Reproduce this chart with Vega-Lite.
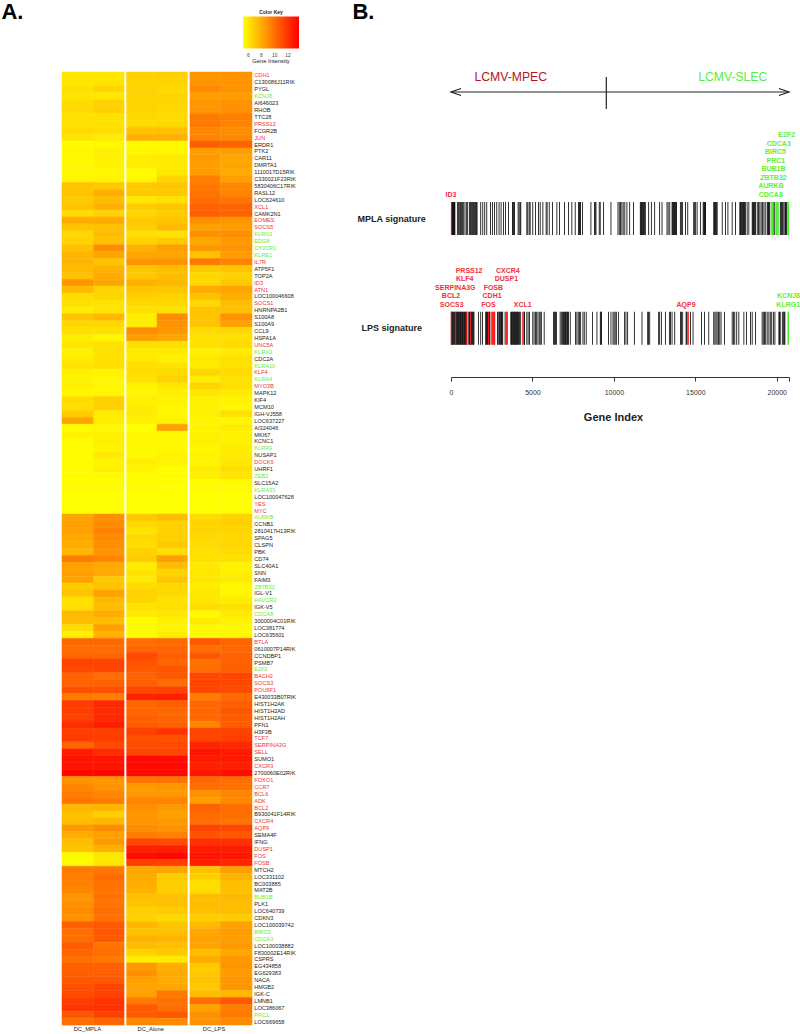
{"$schema":"https://vega.github.io/schema/vega-lite/v6.json","width":800,"height":1034,"padding":0,"autosize":{"type":"none"},"background":"white","config":{"view":{"stroke":null},"font":"Liberation Sans"},
"datasets":{
"cells":[
{"gene":"CDH1","sample":"M1","value":6.0},{"gene":"CDH1","sample":"M2","value":6.0},{"gene":"CDH1","sample":"A1","value":6.7},{"gene":"CDH1","sample":"A2","value":6.8},{"gene":"CDH1","sample":"L1","value":8.7},{"gene":"CDH1","sample":"L2","value":8.8},
{"gene":"C130086J11RIK","sample":"M1","value":6.0},{"gene":"C130086J11RIK","sample":"M2","value":6.1},{"gene":"C130086J11RIK","sample":"A1","value":6.6},{"gene":"C130086J11RIK","sample":"A2","value":6.6},{"gene":"C130086J11RIK","sample":"L1","value":8.7},{"gene":"C130086J11RIK","sample":"L2","value":8.8},
{"gene":"PYGL","sample":"M1","value":6.2},{"gene":"PYGL","sample":"M2","value":6.6},{"gene":"PYGL","sample":"A1","value":6.7},{"gene":"PYGL","sample":"A2","value":6.5},{"gene":"PYGL","sample":"L1","value":9.1},{"gene":"PYGL","sample":"L2","value":8.8},
{"gene":"KCNJ8","sample":"M1","value":6.1},{"gene":"KCNJ8","sample":"M2","value":6.0},{"gene":"KCNJ8","sample":"A1","value":6.6},{"gene":"KCNJ8","sample":"A2","value":6.6},{"gene":"KCNJ8","sample":"L1","value":8.4},{"gene":"KCNJ8","sample":"L2","value":8.5},
{"gene":"AI646023","sample":"M1","value":6.4},{"gene":"AI646023","sample":"M2","value":6.7},{"gene":"AI646023","sample":"A1","value":6.6},{"gene":"AI646023","sample":"A2","value":6.6},{"gene":"AI646023","sample":"L1","value":8.7},{"gene":"AI646023","sample":"L2","value":8.9},
{"gene":"RHOB","sample":"M1","value":6.4},{"gene":"RHOB","sample":"M2","value":6.8},{"gene":"RHOB","sample":"A1","value":6.6},{"gene":"RHOB","sample":"A2","value":6.5},{"gene":"RHOB","sample":"L1","value":8.7},{"gene":"RHOB","sample":"L2","value":8.9},
{"gene":"TTC28","sample":"M1","value":6.2},{"gene":"TTC28","sample":"M2","value":6.2},{"gene":"TTC28","sample":"A1","value":6.5},{"gene":"TTC28","sample":"A2","value":6.4},{"gene":"TTC28","sample":"L1","value":9.6},{"gene":"TTC28","sample":"L2","value":9.5},
{"gene":"PRSS12","sample":"M1","value":6.2},{"gene":"PRSS12","sample":"M2","value":6.2},{"gene":"PRSS12","sample":"A1","value":6.4},{"gene":"PRSS12","sample":"A2","value":6.5},{"gene":"PRSS12","sample":"L1","value":9.7},{"gene":"PRSS12","sample":"L2","value":9.3},
{"gene":"FCGR2B","sample":"M1","value":6.4},{"gene":"FCGR2B","sample":"M2","value":6.3},{"gene":"FCGR2B","sample":"A1","value":7.2},{"gene":"FCGR2B","sample":"A2","value":7.3},{"gene":"FCGR2B","sample":"L1","value":9.2},{"gene":"FCGR2B","sample":"L2","value":9.0},
{"gene":"JUN","sample":"M1","value":6.1},{"gene":"JUN","sample":"M2","value":5.9},{"gene":"JUN","sample":"A1","value":7.8},{"gene":"JUN","sample":"A2","value":7.8},{"gene":"JUN","sample":"L1","value":9.3},{"gene":"JUN","sample":"L2","value":9.1},
{"gene":"ERDR1","sample":"M1","value":5.3},{"gene":"ERDR1","sample":"M2","value":5.4},{"gene":"ERDR1","sample":"A1","value":5.3},{"gene":"ERDR1","sample":"A2","value":5.4},{"gene":"ERDR1","sample":"L1","value":10.6},{"gene":"ERDR1","sample":"L2","value":10.4},
{"gene":"PTK2","sample":"M1","value":5.5},{"gene":"PTK2","sample":"M2","value":5.7},{"gene":"PTK2","sample":"A1","value":5.5},{"gene":"PTK2","sample":"A2","value":5.5},{"gene":"PTK2","sample":"L1","value":8.4},{"gene":"PTK2","sample":"L2","value":8.5},
{"gene":"CAR11","sample":"M1","value":5.4},{"gene":"CAR11","sample":"M2","value":5.7},{"gene":"CAR11","sample":"A1","value":5.8},{"gene":"CAR11","sample":"A2","value":5.9},{"gene":"CAR11","sample":"L1","value":8.6},{"gene":"CAR11","sample":"L2","value":8.2},
{"gene":"DMRTA1","sample":"M1","value":5.4},{"gene":"DMRTA1","sample":"M2","value":5.6},{"gene":"DMRTA1","sample":"A1","value":5.8},{"gene":"DMRTA1","sample":"A2","value":5.8},{"gene":"DMRTA1","sample":"L1","value":8.4},{"gene":"DMRTA1","sample":"L2","value":8.2},
{"gene":"1110017D15RIK","sample":"M1","value":5.4},{"gene":"1110017D15RIK","sample":"M2","value":5.5},{"gene":"1110017D15RIK","sample":"A1","value":5.3},{"gene":"1110017D15RIK","sample":"A2","value":6.0},{"gene":"1110017D15RIK","sample":"L1","value":8.5},{"gene":"1110017D15RIK","sample":"L2","value":8.0},
{"gene":"C330021F23RIK","sample":"M1","value":5.5},{"gene":"C330021F23RIK","sample":"M2","value":5.6},{"gene":"C330021F23RIK","sample":"A1","value":5.5},{"gene":"C330021F23RIK","sample":"A2","value":6.6},{"gene":"C330021F23RIK","sample":"L1","value":9.5},{"gene":"C330021F23RIK","sample":"L2","value":8.4},
{"gene":"5830406C17RIK","sample":"M1","value":7.2},{"gene":"5830406C17RIK","sample":"M2","value":7.0},{"gene":"5830406C17RIK","sample":"A1","value":7.0},{"gene":"5830406C17RIK","sample":"A2","value":7.1},{"gene":"5830406C17RIK","sample":"L1","value":9.7},{"gene":"5830406C17RIK","sample":"L2","value":9.2},
{"gene":"RASL12","sample":"M1","value":7.2},{"gene":"RASL12","sample":"M2","value":7.9},{"gene":"RASL12","sample":"A1","value":7.0},{"gene":"RASL12","sample":"A2","value":7.0},{"gene":"RASL12","sample":"L1","value":9.8},{"gene":"RASL12","sample":"L2","value":9.3},
{"gene":"LOC624610","sample":"M1","value":7.0},{"gene":"LOC624610","sample":"M2","value":7.4},{"gene":"LOC624610","sample":"A1","value":6.0},{"gene":"LOC624610","sample":"A2","value":6.2},{"gene":"LOC624610","sample":"L1","value":10.0},{"gene":"LOC624610","sample":"L2","value":9.8},
{"gene":"XCL1","sample":"M1","value":7.2},{"gene":"XCL1","sample":"M2","value":7.8},{"gene":"XCL1","sample":"A1","value":6.9},{"gene":"XCL1","sample":"A2","value":7.1},{"gene":"XCL1","sample":"L1","value":10.4},{"gene":"XCL1","sample":"L2","value":10.4},
{"gene":"CAMK2N1","sample":"M1","value":6.4},{"gene":"CAMK2N1","sample":"M2","value":6.7},{"gene":"CAMK2N1","sample":"A1","value":6.6},{"gene":"CAMK2N1","sample":"A2","value":6.9},{"gene":"CAMK2N1","sample":"L1","value":10.5},{"gene":"CAMK2N1","sample":"L2","value":10.4},
{"gene":"EOMES","sample":"M1","value":8.0},{"gene":"EOMES","sample":"M2","value":8.0},{"gene":"EOMES","sample":"A1","value":7.0},{"gene":"EOMES","sample":"A2","value":7.1},{"gene":"EOMES","sample":"L1","value":8.9},{"gene":"EOMES","sample":"L2","value":8.7},
{"gene":"SOCS5","sample":"M1","value":7.2},{"gene":"SOCS5","sample":"M2","value":7.3},{"gene":"SOCS5","sample":"A1","value":6.9},{"gene":"SOCS5","sample":"A2","value":7.5},{"gene":"SOCS5","sample":"L1","value":8.3},{"gene":"SOCS5","sample":"L2","value":8.5},
{"gene":"KLRG1","sample":"M1","value":6.5},{"gene":"KLRG1","sample":"M2","value":7.4},{"gene":"KLRG1","sample":"A1","value":6.3},{"gene":"KLRG1","sample":"A2","value":6.2},{"gene":"KLRG1","sample":"L1","value":8.9},{"gene":"KLRG1","sample":"L2","value":9.0},
{"gene":"EDG8","sample":"M1","value":6.7},{"gene":"EDG8","sample":"M2","value":7.3},{"gene":"EDG8","sample":"A1","value":6.7},{"gene":"EDG8","sample":"A2","value":7.0},{"gene":"EDG8","sample":"L1","value":8.1},{"gene":"EDG8","sample":"L2","value":8.6},
{"gene":"CX3CR1","sample":"M1","value":7.3},{"gene":"CX3CR1","sample":"M2","value":9.0},{"gene":"CX3CR1","sample":"A1","value":7.8},{"gene":"CX3CR1","sample":"A2","value":8.4},{"gene":"CX3CR1","sample":"L1","value":8.6},{"gene":"CX3CR1","sample":"L2","value":8.8},
{"gene":"KLRE1","sample":"M1","value":7.7},{"gene":"KLRE1","sample":"M2","value":8.2},{"gene":"KLRE1","sample":"A1","value":8.2},{"gene":"KLRE1","sample":"A2","value":8.2},{"gene":"KLRE1","sample":"L1","value":7.2},{"gene":"KLRE1","sample":"L2","value":8.5},
{"gene":"IL7R","sample":"M1","value":7.7},{"gene":"IL7R","sample":"M2","value":7.2},{"gene":"IL7R","sample":"A1","value":8.8},{"gene":"IL7R","sample":"A2","value":8.8},{"gene":"IL7R","sample":"L1","value":9.7},{"gene":"IL7R","sample":"L2","value":9.3},
{"gene":"ATP5F1","sample":"M1","value":7.5},{"gene":"ATP5F1","sample":"M2","value":7.8},{"gene":"ATP5F1","sample":"A1","value":7.1},{"gene":"ATP5F1","sample":"A2","value":7.4},{"gene":"ATP5F1","sample":"L1","value":7.0},{"gene":"ATP5F1","sample":"L2","value":7.2},
{"gene":"TOP2A","sample":"M1","value":7.2},{"gene":"TOP2A","sample":"M2","value":8.0},{"gene":"TOP2A","sample":"A1","value":7.0},{"gene":"TOP2A","sample":"A2","value":7.4},{"gene":"TOP2A","sample":"L1","value":6.5},{"gene":"TOP2A","sample":"L2","value":6.7},
{"gene":"ID3","sample":"M1","value":8.7},{"gene":"ID3","sample":"M2","value":8.2},{"gene":"ID3","sample":"A1","value":7.8},{"gene":"ID3","sample":"A2","value":7.6},{"gene":"ID3","sample":"L1","value":6.5},{"gene":"ID3","sample":"L2","value":7.0},
{"gene":"ATN1","sample":"M1","value":7.5},{"gene":"ATN1","sample":"M2","value":6.6},{"gene":"ATN1","sample":"A1","value":7.1},{"gene":"ATN1","sample":"A2","value":7.1},{"gene":"ATN1","sample":"L1","value":8.0},{"gene":"ATN1","sample":"L2","value":8.2},
{"gene":"LOC100046608","sample":"M1","value":6.4},{"gene":"LOC100046608","sample":"M2","value":6.6},{"gene":"LOC100046608","sample":"A1","value":6.8},{"gene":"LOC100046608","sample":"A2","value":6.7},{"gene":"LOC100046608","sample":"L1","value":7.3},{"gene":"LOC100046608","sample":"L2","value":7.9},
{"gene":"SOCS1","sample":"M1","value":6.2},{"gene":"SOCS1","sample":"M2","value":6.2},{"gene":"SOCS1","sample":"A1","value":6.5},{"gene":"SOCS1","sample":"A2","value":6.5},{"gene":"SOCS1","sample":"L1","value":6.5},{"gene":"SOCS1","sample":"L2","value":7.4},
{"gene":"HNRNPA2B1","sample":"M1","value":5.8},{"gene":"HNRNPA2B1","sample":"M2","value":6.1},{"gene":"HNRNPA2B1","sample":"A1","value":6.2},{"gene":"HNRNPA2B1","sample":"A2","value":6.2},{"gene":"HNRNPA2B1","sample":"L1","value":7.2},{"gene":"HNRNPA2B1","sample":"L2","value":7.3},
{"gene":"S100A8","sample":"M1","value":7.2},{"gene":"S100A8","sample":"M2","value":7.6},{"gene":"S100A8","sample":"A1","value":5.8},{"gene":"S100A8","sample":"A2","value":9.0},{"gene":"S100A8","sample":"L1","value":7.2},{"gene":"S100A8","sample":"L2","value":8.8},
{"gene":"S100A9","sample":"M1","value":6.5},{"gene":"S100A9","sample":"M2","value":6.5},{"gene":"S100A9","sample":"A1","value":5.8},{"gene":"S100A9","sample":"A2","value":8.8},{"gene":"S100A9","sample":"L1","value":7.2},{"gene":"S100A9","sample":"L2","value":8.3},
{"gene":"CCL9","sample":"M1","value":6.3},{"gene":"CCL9","sample":"M2","value":6.2},{"gene":"CCL9","sample":"A1","value":9.0},{"gene":"CCL9","sample":"A2","value":8.7},{"gene":"CCL9","sample":"L1","value":6.4},{"gene":"CCL9","sample":"L2","value":6.5},
{"gene":"HSPA1A","sample":"M1","value":5.8},{"gene":"HSPA1A","sample":"M2","value":5.5},{"gene":"HSPA1A","sample":"A1","value":8.5},{"gene":"HSPA1A","sample":"A2","value":8.2},{"gene":"HSPA1A","sample":"L1","value":6.2},{"gene":"HSPA1A","sample":"L2","value":6.2},
{"gene":"UNC5A","sample":"M1","value":6.0},{"gene":"UNC5A","sample":"M2","value":6.2},{"gene":"UNC5A","sample":"A1","value":6.2},{"gene":"UNC5A","sample":"A2","value":6.2},{"gene":"UNC5A","sample":"L1","value":6.2},{"gene":"UNC5A","sample":"L2","value":6.4},
{"gene":"KLRA3","sample":"M1","value":5.7},{"gene":"KLRA3","sample":"M2","value":6.2},{"gene":"KLRA3","sample":"A1","value":5.9},{"gene":"KLRA3","sample":"A2","value":5.9},{"gene":"KLRA3","sample":"L1","value":5.7},{"gene":"KLRA3","sample":"L2","value":5.9},
{"gene":"CDC2A","sample":"M1","value":5.9},{"gene":"CDC2A","sample":"M2","value":6.2},{"gene":"CDC2A","sample":"A1","value":5.9},{"gene":"CDC2A","sample":"A2","value":5.7},{"gene":"CDC2A","sample":"L1","value":6.0},{"gene":"CDC2A","sample":"L2","value":6.2},
{"gene":"KLRA10","sample":"M1","value":6.1},{"gene":"KLRA10","sample":"M2","value":6.3},{"gene":"KLRA10","sample":"A1","value":6.3},{"gene":"KLRA10","sample":"A2","value":6.1},{"gene":"KLRA10","sample":"L1","value":5.9},{"gene":"KLRA10","sample":"L2","value":6.2},
{"gene":"KLF4","sample":"M1","value":5.7},{"gene":"KLF4","sample":"M2","value":5.6},{"gene":"KLF4","sample":"A1","value":6.3},{"gene":"KLF4","sample":"A2","value":6.4},{"gene":"KLF4","sample":"L1","value":6.6},{"gene":"KLF4","sample":"L2","value":6.4},
{"gene":"KLRA4","sample":"M1","value":5.6},{"gene":"KLRA4","sample":"M2","value":5.5},{"gene":"KLRA4","sample":"A1","value":6.2},{"gene":"KLRA4","sample":"A2","value":6.7},{"gene":"KLRA4","sample":"L1","value":5.8},{"gene":"KLRA4","sample":"L2","value":6.2},
{"gene":"MYO3B","sample":"M1","value":5.7},{"gene":"MYO3B","sample":"M2","value":5.5},{"gene":"MYO3B","sample":"A1","value":5.6},{"gene":"MYO3B","sample":"A2","value":6.0},{"gene":"MYO3B","sample":"L1","value":6.6},{"gene":"MYO3B","sample":"L2","value":6.3},
{"gene":"MAPK12","sample":"M1","value":5.5},{"gene":"MAPK12","sample":"M2","value":5.5},{"gene":"MAPK12","sample":"A1","value":5.5},{"gene":"MAPK12","sample":"A2","value":5.7},{"gene":"MAPK12","sample":"L1","value":6.0},{"gene":"MAPK12","sample":"L2","value":5.9},
{"gene":"KIF4","sample":"M1","value":6.4},{"gene":"KIF4","sample":"M2","value":6.8},{"gene":"KIF4","sample":"A1","value":5.7},{"gene":"KIF4","sample":"A2","value":5.6},{"gene":"KIF4","sample":"L1","value":5.7},{"gene":"KIF4","sample":"L2","value":5.6},
{"gene":"MCM10","sample":"M1","value":6.3},{"gene":"MCM10","sample":"M2","value":6.8},{"gene":"MCM10","sample":"A1","value":5.8},{"gene":"MCM10","sample":"A2","value":5.5},{"gene":"MCM10","sample":"L1","value":5.7},{"gene":"MCM10","sample":"L2","value":5.5},
{"gene":"IGH-VJ558","sample":"M1","value":6.9},{"gene":"IGH-VJ558","sample":"M2","value":5.9},{"gene":"IGH-VJ558","sample":"A1","value":5.9},{"gene":"IGH-VJ558","sample":"A2","value":5.5},{"gene":"IGH-VJ558","sample":"L1","value":5.7},{"gene":"IGH-VJ558","sample":"L2","value":6.2},
{"gene":"LOC637227","sample":"M1","value":8.2},{"gene":"LOC637227","sample":"M2","value":5.8},{"gene":"LOC637227","sample":"A1","value":5.7},{"gene":"LOC637227","sample":"A2","value":5.6},{"gene":"LOC637227","sample":"L1","value":5.6},{"gene":"LOC637227","sample":"L2","value":5.5},
{"gene":"AI324046","sample":"M1","value":5.3},{"gene":"AI324046","sample":"M2","value":5.5},{"gene":"AI324046","sample":"A1","value":5.2},{"gene":"AI324046","sample":"A2","value":8.4},{"gene":"AI324046","sample":"L1","value":5.6},{"gene":"AI324046","sample":"L2","value":5.9},
{"gene":"MKI67","sample":"M1","value":5.6},{"gene":"MKI67","sample":"M2","value":5.7},{"gene":"MKI67","sample":"A1","value":5.4},{"gene":"MKI67","sample":"A2","value":5.5},{"gene":"MKI67","sample":"L1","value":5.7},{"gene":"MKI67","sample":"L2","value":5.6},
{"gene":"KCNC1","sample":"M1","value":5.3},{"gene":"KCNC1","sample":"M2","value":5.7},{"gene":"KCNC1","sample":"A1","value":5.4},{"gene":"KCNC1","sample":"A2","value":5.4},{"gene":"KCNC1","sample":"L1","value":5.7},{"gene":"KCNC1","sample":"L2","value":5.7},
{"gene":"KLRA9","sample":"M1","value":5.3},{"gene":"KLRA9","sample":"M2","value":5.6},{"gene":"KLRA9","sample":"A1","value":5.4},{"gene":"KLRA9","sample":"A2","value":5.4},{"gene":"KLRA9","sample":"L1","value":5.5},{"gene":"KLRA9","sample":"L2","value":5.8},
{"gene":"NUSAP1","sample":"M1","value":5.3},{"gene":"NUSAP1","sample":"M2","value":5.9},{"gene":"NUSAP1","sample":"A1","value":5.4},{"gene":"NUSAP1","sample":"A2","value":5.6},{"gene":"NUSAP1","sample":"L1","value":5.6},{"gene":"NUSAP1","sample":"L2","value":5.9},
{"gene":"DOCK9","sample":"M1","value":5.3},{"gene":"DOCK9","sample":"M2","value":5.6},{"gene":"DOCK9","sample":"A1","value":5.7},{"gene":"DOCK9","sample":"A2","value":5.6},{"gene":"DOCK9","sample":"L1","value":5.6},{"gene":"DOCK9","sample":"L2","value":6.0},
{"gene":"UHRF1","sample":"M1","value":5.3},{"gene":"UHRF1","sample":"M2","value":5.7},{"gene":"UHRF1","sample":"A1","value":5.5},{"gene":"UHRF1","sample":"A2","value":5.3},{"gene":"UHRF1","sample":"L1","value":5.8},{"gene":"UHRF1","sample":"L2","value":6.3},
{"gene":"ZEB2","sample":"M1","value":5.3},{"gene":"ZEB2","sample":"M2","value":5.4},{"gene":"ZEB2","sample":"A1","value":5.3},{"gene":"ZEB2","sample":"A2","value":5.3},{"gene":"ZEB2","sample":"L1","value":5.7},{"gene":"ZEB2","sample":"L2","value":6.1},
{"gene":"SLC15A2","sample":"M1","value":5.3},{"gene":"SLC15A2","sample":"M2","value":5.3},{"gene":"SLC15A2","sample":"A1","value":5.3},{"gene":"SLC15A2","sample":"A2","value":5.3},{"gene":"SLC15A2","sample":"L1","value":5.3},{"gene":"SLC15A2","sample":"L2","value":5.4},
{"gene":"KLRA33","sample":"M1","value":5.3},{"gene":"KLRA33","sample":"M2","value":5.3},{"gene":"KLRA33","sample":"A1","value":5.3},{"gene":"KLRA33","sample":"A2","value":5.2},{"gene":"KLRA33","sample":"L1","value":5.3},{"gene":"KLRA33","sample":"L2","value":5.3},
{"gene":"LOC100047628","sample":"M1","value":5.2},{"gene":"LOC100047628","sample":"M2","value":5.2},{"gene":"LOC100047628","sample":"A1","value":5.2},{"gene":"LOC100047628","sample":"A2","value":5.2},{"gene":"LOC100047628","sample":"L1","value":5.2},{"gene":"LOC100047628","sample":"L2","value":5.2},
{"gene":"YES","sample":"M1","value":5.2},{"gene":"YES","sample":"M2","value":5.2},{"gene":"YES","sample":"A1","value":5.2},{"gene":"YES","sample":"A2","value":5.2},{"gene":"YES","sample":"L1","value":5.2},{"gene":"YES","sample":"L2","value":5.2},
{"gene":"MYC","sample":"M1","value":5.2},{"gene":"MYC","sample":"M2","value":5.2},{"gene":"MYC","sample":"A1","value":5.2},{"gene":"MYC","sample":"A2","value":5.2},{"gene":"MYC","sample":"L1","value":5.2},{"gene":"MYC","sample":"L2","value":5.2},
{"gene":"AURKB","sample":"M1","value":8.2},{"gene":"AURKB","sample":"M2","value":8.9},{"gene":"AURKB","sample":"A1","value":7.0},{"gene":"AURKB","sample":"A2","value":7.4},{"gene":"AURKB","sample":"L1","value":6.4},{"gene":"AURKB","sample":"L2","value":6.7},
{"gene":"CCNB1","sample":"M1","value":8.4},{"gene":"CCNB1","sample":"M2","value":9.1},{"gene":"CCNB1","sample":"A1","value":6.5},{"gene":"CCNB1","sample":"A2","value":6.7},{"gene":"CCNB1","sample":"L1","value":6.6},{"gene":"CCNB1","sample":"L2","value":6.8},
{"gene":"2810417H13RIK","sample":"M1","value":8.3},{"gene":"2810417H13RIK","sample":"M2","value":9.4},{"gene":"2810417H13RIK","sample":"A1","value":6.1},{"gene":"2810417H13RIK","sample":"A2","value":6.7},{"gene":"2810417H13RIK","sample":"L1","value":6.6},{"gene":"2810417H13RIK","sample":"L2","value":6.6},
{"gene":"SPAG5","sample":"M1","value":8.1},{"gene":"SPAG5","sample":"M2","value":9.1},{"gene":"SPAG5","sample":"A1","value":6.5},{"gene":"SPAG5","sample":"A2","value":6.8},{"gene":"SPAG5","sample":"L1","value":6.5},{"gene":"SPAG5","sample":"L2","value":6.5},
{"gene":"CLSPN","sample":"M1","value":7.9},{"gene":"CLSPN","sample":"M2","value":9.0},{"gene":"CLSPN","sample":"A1","value":6.3},{"gene":"CLSPN","sample":"A2","value":7.0},{"gene":"CLSPN","sample":"L1","value":6.4},{"gene":"CLSPN","sample":"L2","value":6.5},
{"gene":"PBK","sample":"M1","value":7.6},{"gene":"PBK","sample":"M2","value":8.8},{"gene":"PBK","sample":"A1","value":6.7},{"gene":"PBK","sample":"A2","value":6.3},{"gene":"PBK","sample":"L1","value":6.3},{"gene":"PBK","sample":"L2","value":6.4},
{"gene":"CD74","sample":"M1","value":9.6},{"gene":"CD74","sample":"M2","value":9.2},{"gene":"CD74","sample":"A1","value":6.9},{"gene":"CD74","sample":"A2","value":8.4},{"gene":"CD74","sample":"L1","value":6.2},{"gene":"CD74","sample":"L2","value":6.2},
{"gene":"SLC40A1","sample":"M1","value":8.3},{"gene":"SLC40A1","sample":"M2","value":8.1},{"gene":"SLC40A1","sample":"A1","value":5.9},{"gene":"SLC40A1","sample":"A2","value":7.4},{"gene":"SLC40A1","sample":"L1","value":5.9},{"gene":"SLC40A1","sample":"L2","value":5.6},
{"gene":"SNN","sample":"M1","value":8.4},{"gene":"SNN","sample":"M2","value":8.1},{"gene":"SNN","sample":"A1","value":6.1},{"gene":"SNN","sample":"A2","value":6.7},{"gene":"SNN","sample":"L1","value":6.0},{"gene":"SNN","sample":"L2","value":5.7},
{"gene":"FAIM3","sample":"M1","value":8.3},{"gene":"FAIM3","sample":"M2","value":7.0},{"gene":"FAIM3","sample":"A1","value":5.9},{"gene":"FAIM3","sample":"A2","value":7.1},{"gene":"FAIM3","sample":"L1","value":6.0},{"gene":"FAIM3","sample":"L2","value":5.8},
{"gene":"ZBTB32","sample":"M1","value":6.9},{"gene":"ZBTB32","sample":"M2","value":7.2},{"gene":"ZBTB32","sample":"A1","value":6.4},{"gene":"ZBTB32","sample":"A2","value":6.5},{"gene":"ZBTB32","sample":"L1","value":5.8},{"gene":"ZBTB32","sample":"L2","value":5.5},
{"gene":"IGL-V1","sample":"M1","value":7.2},{"gene":"IGL-V1","sample":"M2","value":8.3},{"gene":"IGL-V1","sample":"A1","value":6.7},{"gene":"IGL-V1","sample":"A2","value":6.5},{"gene":"IGL-V1","sample":"L1","value":6.0},{"gene":"IGL-V1","sample":"L2","value":5.5},
{"gene":"HAVCR2","sample":"M1","value":6.2},{"gene":"HAVCR2","sample":"M2","value":7.5},{"gene":"HAVCR2","sample":"A1","value":6.6},{"gene":"HAVCR2","sample":"A2","value":6.2},{"gene":"HAVCR2","sample":"L1","value":6.0},{"gene":"HAVCR2","sample":"L2","value":5.8},
{"gene":"IGK-V5","sample":"M1","value":6.3},{"gene":"IGK-V5","sample":"M2","value":7.4},{"gene":"IGK-V5","sample":"A1","value":6.1},{"gene":"IGK-V5","sample":"A2","value":6.3},{"gene":"IGK-V5","sample":"L1","value":6.3},{"gene":"IGK-V5","sample":"L2","value":6.2},
{"gene":"CDCA8","sample":"M1","value":7.5},{"gene":"CDCA8","sample":"M2","value":8.0},{"gene":"CDCA8","sample":"A1","value":5.9},{"gene":"CDCA8","sample":"A2","value":6.0},{"gene":"CDCA8","sample":"L1","value":5.4},{"gene":"CDCA8","sample":"L2","value":5.9},
{"gene":"3000004C01RIK","sample":"M1","value":7.4},{"gene":"3000004C01RIK","sample":"M2","value":7.4},{"gene":"3000004C01RIK","sample":"A1","value":5.3},{"gene":"3000004C01RIK","sample":"A2","value":5.7},{"gene":"3000004C01RIK","sample":"L1","value":5.9},{"gene":"3000004C01RIK","sample":"L2","value":5.6},
{"gene":"LOC381774","sample":"M1","value":6.4},{"gene":"LOC381774","sample":"M2","value":8.4},{"gene":"LOC381774","sample":"A1","value":5.3},{"gene":"LOC381774","sample":"A2","value":5.6},{"gene":"LOC381774","sample":"L1","value":5.4},{"gene":"LOC381774","sample":"L2","value":5.4},
{"gene":"LOC635601","sample":"M1","value":5.7},{"gene":"LOC635601","sample":"M2","value":7.8},{"gene":"LOC635601","sample":"A1","value":5.3},{"gene":"LOC635601","sample":"A2","value":5.8},{"gene":"LOC635601","sample":"L1","value":5.3},{"gene":"LOC635601","sample":"L2","value":5.4},
{"gene":"BTLA","sample":"M1","value":10.2},{"gene":"BTLA","sample":"M2","value":10.2},{"gene":"BTLA","sample":"A1","value":10.0},{"gene":"BTLA","sample":"A2","value":10.1},{"gene":"BTLA","sample":"L1","value":10.7},{"gene":"BTLA","sample":"L2","value":10.3},
{"gene":"0610007P14RIK","sample":"M1","value":10.0},{"gene":"0610007P14RIK","sample":"M2","value":10.0},{"gene":"0610007P14RIK","sample":"A1","value":10.2},{"gene":"0610007P14RIK","sample":"A2","value":10.3},{"gene":"0610007P14RIK","sample":"L1","value":10.0},{"gene":"0610007P14RIK","sample":"L2","value":10.2},
{"gene":"CCNDBP1","sample":"M1","value":10.3},{"gene":"CCNDBP1","sample":"M2","value":10.3},{"gene":"CCNDBP1","sample":"A1","value":11.2},{"gene":"CCNDBP1","sample":"A2","value":10.5},{"gene":"CCNDBP1","sample":"L1","value":10.8},{"gene":"CCNDBP1","sample":"L2","value":10.4},
{"gene":"PSMB7","sample":"M1","value":11.5},{"gene":"PSMB7","sample":"M2","value":11.4},{"gene":"PSMB7","sample":"A1","value":10.9},{"gene":"PSMB7","sample":"A2","value":10.3},{"gene":"PSMB7","sample":"L1","value":9.9},{"gene":"PSMB7","sample":"L2","value":10.4},
{"gene":"E2F2","sample":"M1","value":11.2},{"gene":"E2F2","sample":"M2","value":11.4},{"gene":"E2F2","sample":"A1","value":10.7},{"gene":"E2F2","sample":"A2","value":10.8},{"gene":"E2F2","sample":"L1","value":10.0},{"gene":"E2F2","sample":"L2","value":10.5},
{"gene":"BACH2","sample":"M1","value":10.4},{"gene":"BACH2","sample":"M2","value":10.0},{"gene":"BACH2","sample":"A1","value":10.4},{"gene":"BACH2","sample":"A2","value":10.7},{"gene":"BACH2","sample":"L1","value":11.3},{"gene":"BACH2","sample":"L2","value":11.3},
{"gene":"SOCS3","sample":"M1","value":10.4},{"gene":"SOCS3","sample":"M2","value":10.4},{"gene":"SOCS3","sample":"A1","value":10.5},{"gene":"SOCS3","sample":"A2","value":10.0},{"gene":"SOCS3","sample":"L1","value":11.4},{"gene":"SOCS3","sample":"L2","value":11.3},
{"gene":"POU6F1","sample":"M1","value":11.0},{"gene":"POU6F1","sample":"M2","value":11.0},{"gene":"POU6F1","sample":"A1","value":11.3},{"gene":"POU6F1","sample":"A2","value":11.5},{"gene":"POU6F1","sample":"L1","value":11.3},{"gene":"POU6F1","sample":"L2","value":11.2},
{"gene":"E430033B07RIK","sample":"M1","value":9.6},{"gene":"E430033B07RIK","sample":"M2","value":9.5},{"gene":"E430033B07RIK","sample":"A1","value":12.5},{"gene":"E430033B07RIK","sample":"A2","value":12.6},{"gene":"E430033B07RIK","sample":"L1","value":9.5},{"gene":"E430033B07RIK","sample":"L2","value":10.1},
{"gene":"HIST1H2AK","sample":"M1","value":11.7},{"gene":"HIST1H2AK","sample":"M2","value":12.3},{"gene":"HIST1H2AK","sample":"A1","value":10.3},{"gene":"HIST1H2AK","sample":"A2","value":10.5},{"gene":"HIST1H2AK","sample":"L1","value":10.2},{"gene":"HIST1H2AK","sample":"L2","value":10.5},
{"gene":"HIST1H2AD","sample":"M1","value":11.6},{"gene":"HIST1H2AD","sample":"M2","value":12.2},{"gene":"HIST1H2AD","sample":"A1","value":10.2},{"gene":"HIST1H2AD","sample":"A2","value":10.2},{"gene":"HIST1H2AD","sample":"L1","value":10.2},{"gene":"HIST1H2AD","sample":"L2","value":10.8},
{"gene":"HIST1H2AH","sample":"M1","value":11.5},{"gene":"HIST1H2AH","sample":"M2","value":12.3},{"gene":"HIST1H2AH","sample":"A1","value":10.5},{"gene":"HIST1H2AH","sample":"A2","value":10.3},{"gene":"HIST1H2AH","sample":"L1","value":10.2},{"gene":"HIST1H2AH","sample":"L2","value":10.6},
{"gene":"PFN1","sample":"M1","value":12.2},{"gene":"PFN1","sample":"M2","value":12.7},{"gene":"PFN1","sample":"A1","value":10.6},{"gene":"PFN1","sample":"A2","value":10.4},{"gene":"PFN1","sample":"L1","value":9.3},{"gene":"PFN1","sample":"L2","value":10.5},
{"gene":"H3F3B","sample":"M1","value":11.6},{"gene":"H3F3B","sample":"M2","value":11.5},{"gene":"H3F3B","sample":"A1","value":11.5},{"gene":"H3F3B","sample":"A2","value":12.0},{"gene":"H3F3B","sample":"L1","value":11.4},{"gene":"H3F3B","sample":"L2","value":11.4},
{"gene":"TCF7","sample":"M1","value":11.7},{"gene":"TCF7","sample":"M2","value":11.6},{"gene":"TCF7","sample":"A1","value":11.0},{"gene":"TCF7","sample":"A2","value":11.0},{"gene":"TCF7","sample":"L1","value":11.4},{"gene":"TCF7","sample":"L2","value":11.6},
{"gene":"SERPINA3G","sample":"M1","value":10.3},{"gene":"SERPINA3G","sample":"M2","value":11.2},{"gene":"SERPINA3G","sample":"A1","value":11.1},{"gene":"SERPINA3G","sample":"A2","value":11.2},{"gene":"SERPINA3G","sample":"L1","value":12.5},{"gene":"SERPINA3G","sample":"L2","value":12.3},
{"gene":"SELL","sample":"M1","value":12.7},{"gene":"SELL","sample":"M2","value":12.2},{"gene":"SELL","sample":"A1","value":11.4},{"gene":"SELL","sample":"A2","value":11.3},{"gene":"SELL","sample":"L1","value":13.0},{"gene":"SELL","sample":"L2","value":12.8},
{"gene":"SUMO1","sample":"M1","value":13.0},{"gene":"SUMO1","sample":"M2","value":13.0},{"gene":"SUMO1","sample":"A1","value":13.3},{"gene":"SUMO1","sample":"A2","value":13.3},{"gene":"SUMO1","sample":"L1","value":12.8},{"gene":"SUMO1","sample":"L2","value":12.8},
{"gene":"CXCR3","sample":"M1","value":13.0},{"gene":"CXCR3","sample":"M2","value":13.0},{"gene":"CXCR3","sample":"A1","value":13.4},{"gene":"CXCR3","sample":"A2","value":13.4},{"gene":"CXCR3","sample":"L1","value":12.6},{"gene":"CXCR3","sample":"L2","value":12.6},
{"gene":"2700060E02RIK","sample":"M1","value":13.5},{"gene":"2700060E02RIK","sample":"M2","value":13.5},{"gene":"2700060E02RIK","sample":"A1","value":13.3},{"gene":"2700060E02RIK","sample":"A2","value":13.3},{"gene":"2700060E02RIK","sample":"L1","value":13.0},{"gene":"2700060E02RIK","sample":"L2","value":13.2},
{"gene":"FOXO1","sample":"M1","value":8.8},{"gene":"FOXO1","sample":"M2","value":8.7},{"gene":"FOXO1","sample":"A1","value":9.8},{"gene":"FOXO1","sample":"A2","value":9.9},{"gene":"FOXO1","sample":"L1","value":10.2},{"gene":"FOXO1","sample":"L2","value":10.0},
{"gene":"CCR7","sample":"M1","value":9.2},{"gene":"CCR7","sample":"M2","value":8.8},{"gene":"CCR7","sample":"A1","value":8.6},{"gene":"CCR7","sample":"A2","value":8.7},{"gene":"CCR7","sample":"L1","value":10.0},{"gene":"CCR7","sample":"L2","value":9.9},
{"gene":"BCL6","sample":"M1","value":9.5},{"gene":"BCL6","sample":"M2","value":9.2},{"gene":"BCL6","sample":"A1","value":8.6},{"gene":"BCL6","sample":"A2","value":8.6},{"gene":"BCL6","sample":"L1","value":8.9},{"gene":"BCL6","sample":"L2","value":9.3},
{"gene":"ADK","sample":"M1","value":9.8},{"gene":"ADK","sample":"M2","value":9.6},{"gene":"ADK","sample":"A1","value":9.3},{"gene":"ADK","sample":"A2","value":9.3},{"gene":"ADK","sample":"L1","value":8.4},{"gene":"ADK","sample":"L2","value":9.2},
{"gene":"BCL2","sample":"M1","value":7.6},{"gene":"BCL2","sample":"M2","value":7.7},{"gene":"BCL2","sample":"A1","value":8.9},{"gene":"BCL2","sample":"A2","value":8.6},{"gene":"BCL2","sample":"L1","value":10.4},{"gene":"BCL2","sample":"L2","value":10.0},
{"gene":"B930041F14RIK","sample":"M1","value":7.3},{"gene":"B930041F14RIK","sample":"M2","value":6.8},{"gene":"B930041F14RIK","sample":"A1","value":8.7},{"gene":"B930041F14RIK","sample":"A2","value":8.3},{"gene":"B930041F14RIK","sample":"L1","value":10.1},{"gene":"B930041F14RIK","sample":"L2","value":10.0},
{"gene":"CXCR4","sample":"M1","value":7.4},{"gene":"CXCR4","sample":"M2","value":7.6},{"gene":"CXCR4","sample":"A1","value":8.8},{"gene":"CXCR4","sample":"A2","value":8.6},{"gene":"CXCR4","sample":"L1","value":10.0},{"gene":"CXCR4","sample":"L2","value":9.8},
{"gene":"AQP9","sample":"M1","value":8.6},{"gene":"AQP9","sample":"M2","value":9.0},{"gene":"AQP9","sample":"A1","value":9.0},{"gene":"AQP9","sample":"A2","value":8.8},{"gene":"AQP9","sample":"L1","value":11.4},{"gene":"AQP9","sample":"L2","value":11.3},
{"gene":"SEMA4F","sample":"M1","value":8.0},{"gene":"SEMA4F","sample":"M2","value":8.3},{"gene":"SEMA4F","sample":"A1","value":9.5},{"gene":"SEMA4F","sample":"A2","value":9.4},{"gene":"SEMA4F","sample":"L1","value":10.9},{"gene":"SEMA4F","sample":"L2","value":10.7},
{"gene":"IFNG","sample":"M1","value":7.4},{"gene":"IFNG","sample":"M2","value":8.6},{"gene":"IFNG","sample":"A1","value":11.3},{"gene":"IFNG","sample":"A2","value":11.2},{"gene":"IFNG","sample":"L1","value":12.1},{"gene":"IFNG","sample":"L2","value":12.1},
{"gene":"DUSP1","sample":"M1","value":7.2},{"gene":"DUSP1","sample":"M2","value":7.8},{"gene":"DUSP1","sample":"A1","value":12.6},{"gene":"DUSP1","sample":"A2","value":12.6},{"gene":"DUSP1","sample":"L1","value":12.7},{"gene":"DUSP1","sample":"L2","value":12.7},
{"gene":"FOS","sample":"M1","value":5.4},{"gene":"FOS","sample":"M2","value":6.0},{"gene":"FOS","sample":"A1","value":13.2},{"gene":"FOS","sample":"A2","value":13.4},{"gene":"FOS","sample":"L1","value":13.0},{"gene":"FOS","sample":"L2","value":12.9},
{"gene":"FOSB","sample":"M1","value":5.3},{"gene":"FOSB","sample":"M2","value":6.0},{"gene":"FOSB","sample":"A1","value":11.6},{"gene":"FOSB","sample":"A2","value":11.5},{"gene":"FOSB","sample":"L1","value":12.7},{"gene":"FOSB","sample":"L2","value":12.4},
{"gene":"MTCH2","sample":"M1","value":9.6},{"gene":"MTCH2","sample":"M2","value":9.7},{"gene":"MTCH2","sample":"A1","value":8.1},{"gene":"MTCH2","sample":"A2","value":8.2},{"gene":"MTCH2","sample":"L1","value":7.2},{"gene":"MTCH2","sample":"L2","value":8.4},
{"gene":"LOC331102","sample":"M1","value":9.5},{"gene":"LOC331102","sample":"M2","value":10.1},{"gene":"LOC331102","sample":"A1","value":8.0},{"gene":"LOC331102","sample":"A2","value":6.9},{"gene":"LOC331102","sample":"L1","value":6.8},{"gene":"LOC331102","sample":"L2","value":7.8},
{"gene":"BC003885","sample":"M1","value":9.4},{"gene":"BC003885","sample":"M2","value":9.9},{"gene":"BC003885","sample":"A1","value":7.9},{"gene":"BC003885","sample":"A2","value":6.8},{"gene":"BC003885","sample":"L1","value":6.3},{"gene":"BC003885","sample":"L2","value":7.3},
{"gene":"MAT2B","sample":"M1","value":9.2},{"gene":"MAT2B","sample":"M2","value":9.8},{"gene":"MAT2B","sample":"A1","value":7.8},{"gene":"MAT2B","sample":"A2","value":6.8},{"gene":"MAT2B","sample":"L1","value":6.4},{"gene":"MAT2B","sample":"L2","value":7.3},
{"gene":"BUB1B","sample":"M1","value":8.7},{"gene":"BUB1B","sample":"M2","value":9.9},{"gene":"BUB1B","sample":"A1","value":7.3},{"gene":"BUB1B","sample":"A2","value":7.3},{"gene":"BUB1B","sample":"L1","value":7.4},{"gene":"BUB1B","sample":"L2","value":7.5},
{"gene":"PLK1","sample":"M1","value":8.9},{"gene":"PLK1","sample":"M2","value":9.8},{"gene":"PLK1","sample":"A1","value":7.2},{"gene":"PLK1","sample":"A2","value":7.3},{"gene":"PLK1","sample":"L1","value":7.4},{"gene":"PLK1","sample":"L2","value":7.4},
{"gene":"LOC640739","sample":"M1","value":9.1},{"gene":"LOC640739","sample":"M2","value":10.0},{"gene":"LOC640739","sample":"A1","value":6.8},{"gene":"LOC640739","sample":"A2","value":6.9},{"gene":"LOC640739","sample":"L1","value":7.3},{"gene":"LOC640739","sample":"L2","value":7.4},
{"gene":"CDKN3","sample":"M1","value":8.8},{"gene":"CDKN3","sample":"M2","value":9.9},{"gene":"CDKN3","sample":"A1","value":6.7},{"gene":"CDKN3","sample":"A2","value":6.5},{"gene":"CDKN3","sample":"L1","value":6.9},{"gene":"CDKN3","sample":"L2","value":6.9},
{"gene":"LOC100039742","sample":"M1","value":10.5},{"gene":"LOC100039742","sample":"M2","value":10.7},{"gene":"LOC100039742","sample":"A1","value":7.6},{"gene":"LOC100039742","sample":"A2","value":7.1},{"gene":"LOC100039742","sample":"L1","value":7.5},{"gene":"LOC100039742","sample":"L2","value":8.3},
{"gene":"BIRC5","sample":"M1","value":10.0},{"gene":"BIRC5","sample":"M2","value":10.8},{"gene":"BIRC5","sample":"A1","value":7.2},{"gene":"BIRC5","sample":"A2","value":7.3},{"gene":"BIRC5","sample":"L1","value":8.1},{"gene":"BIRC5","sample":"L2","value":8.5},
{"gene":"CDCA3","sample":"M1","value":10.0},{"gene":"CDCA3","sample":"M2","value":10.7},{"gene":"CDCA3","sample":"A1","value":7.8},{"gene":"CDCA3","sample":"A2","value":7.7},{"gene":"CDCA3","sample":"L1","value":8.3},{"gene":"CDCA3","sample":"L2","value":8.4},
{"gene":"LOC100038882","sample":"M1","value":10.6},{"gene":"LOC100038882","sample":"M2","value":9.8},{"gene":"LOC100038882","sample":"A1","value":7.4},{"gene":"LOC100038882","sample":"A2","value":7.3},{"gene":"LOC100038882","sample":"L1","value":8.2},{"gene":"LOC100038882","sample":"L2","value":8.6},
{"gene":"F830002E14RIK","sample":"M1","value":10.3},{"gene":"F830002E14RIK","sample":"M2","value":10.0},{"gene":"F830002E14RIK","sample":"A1","value":6.7},{"gene":"F830002E14RIK","sample":"A2","value":7.0},{"gene":"F830002E14RIK","sample":"L1","value":7.3},{"gene":"F830002E14RIK","sample":"L2","value":8.1},
{"gene":"CSPRS","sample":"M1","value":9.9},{"gene":"CSPRS","sample":"M2","value":9.7},{"gene":"CSPRS","sample":"A1","value":5.8},{"gene":"CSPRS","sample":"A2","value":5.9},{"gene":"CSPRS","sample":"L1","value":8.0},{"gene":"CSPRS","sample":"L2","value":8.6},
{"gene":"EG434858","sample":"M1","value":10.5},{"gene":"EG434858","sample":"M2","value":10.5},{"gene":"EG434858","sample":"A1","value":8.6},{"gene":"EG434858","sample":"A2","value":7.9},{"gene":"EG434858","sample":"L1","value":7.0},{"gene":"EG434858","sample":"L2","value":8.8},
{"gene":"EG629383","sample":"M1","value":10.5},{"gene":"EG629383","sample":"M2","value":10.5},{"gene":"EG629383","sample":"A1","value":8.9},{"gene":"EG629383","sample":"A2","value":8.0},{"gene":"EG629383","sample":"L1","value":7.0},{"gene":"EG629383","sample":"L2","value":8.5},
{"gene":"NACA","sample":"M1","value":10.7},{"gene":"NACA","sample":"M2","value":10.7},{"gene":"NACA","sample":"A1","value":8.4},{"gene":"NACA","sample":"A2","value":8.0},{"gene":"NACA","sample":"L1","value":7.2},{"gene":"NACA","sample":"L2","value":8.7},
{"gene":"HMGB2","sample":"M1","value":11.0},{"gene":"HMGB2","sample":"M2","value":11.4},{"gene":"HMGB2","sample":"A1","value":8.2},{"gene":"HMGB2","sample":"A2","value":8.1},{"gene":"HMGB2","sample":"L1","value":7.0},{"gene":"HMGB2","sample":"L2","value":8.7},
{"gene":"IGK-C","sample":"M1","value":11.2},{"gene":"IGK-C","sample":"M2","value":11.4},{"gene":"IGK-C","sample":"A1","value":8.4},{"gene":"IGK-C","sample":"A2","value":9.7},{"gene":"IGK-C","sample":"L1","value":7.4},{"gene":"IGK-C","sample":"L2","value":7.6},
{"gene":"LMNB1","sample":"M1","value":11.7},{"gene":"LMNB1","sample":"M2","value":12.0},{"gene":"LMNB1","sample":"A1","value":9.6},{"gene":"LMNB1","sample":"A2","value":9.9},{"gene":"LMNB1","sample":"L1","value":10.0},{"gene":"LMNB1","sample":"L2","value":10.7},
{"gene":"LOC386067","sample":"M1","value":11.9},{"gene":"LOC386067","sample":"M2","value":12.0},{"gene":"LOC386067","sample":"A1","value":10.7},{"gene":"LOC386067","sample":"A2","value":10.0},{"gene":"LOC386067","sample":"L1","value":8.3},{"gene":"LOC386067","sample":"L2","value":9.5},
{"gene":"PRC1","sample":"M1","value":10.8},{"gene":"PRC1","sample":"M2","value":11.5},{"gene":"PRC1","sample":"A1","value":10.6},{"gene":"PRC1","sample":"A2","value":10.8},{"gene":"PRC1","sample":"L1","value":8.9},{"gene":"PRC1","sample":"L2","value":9.6},
{"gene":"LOC669658","sample":"M1","value":10.0},{"gene":"LOC669658","sample":"M2","value":10.3},{"gene":"LOC669658","sample":"A1","value":9.2},{"gene":"LOC669658","sample":"A2","value":9.1},{"gene":"LOC669658","sample":"L1","value":8.8},{"gene":"LOC669658","sample":"L2","value":9.1}
],
"genes":[{"gene":"CDH1","group":"MPEC"},{"gene":"C130086J11RIK","group":"other"},{"gene":"PYGL","group":"other"},{"gene":"KCNJ8","group":"SLEC"},{"gene":"AI646023","group":"other"},{"gene":"RHOB","group":"other"},{"gene":"TTC28","group":"other"},{"gene":"PRSS12","group":"MPEC"},{"gene":"FCGR2B","group":"other"},{"gene":"JUN","group":"MPEC"},{"gene":"ERDR1","group":"other"},{"gene":"PTK2","group":"other"},{"gene":"CAR11","group":"other"},{"gene":"DMRTA1","group":"other"},{"gene":"1110017D15RIK","group":"other"},{"gene":"C330021F23RIK","group":"other"},{"gene":"5830406C17RIK","group":"other"},{"gene":"RASL12","group":"other"},{"gene":"LOC624610","group":"other"},{"gene":"XCL1","group":"MPEC"},{"gene":"CAMK2N1","group":"other"},{"gene":"EOMES","group":"MPEC"},{"gene":"SOCS5","group":"MPEC"},{"gene":"KLRG1","group":"SLEC"},{"gene":"EDG8","group":"SLEC"},{"gene":"CX3CR1","group":"SLEC"},{"gene":"KLRE1","group":"SLEC"},{"gene":"IL7R","group":"MPEC"},{"gene":"ATP5F1","group":"other"},{"gene":"TOP2A","group":"other"},{"gene":"ID3","group":"MPEC"},{"gene":"ATN1","group":"MPEC"},{"gene":"LOC100046608","group":"other"},{"gene":"SOCS1","group":"MPEC"},{"gene":"HNRNPA2B1","group":"other"},{"gene":"S100A8","group":"other"},{"gene":"S100A9","group":"other"},{"gene":"CCL9","group":"other"},{"gene":"HSPA1A","group":"other"},{"gene":"UNC5A","group":"MPEC"},{"gene":"KLRA3","group":"SLEC"},{"gene":"CDC2A","group":"other"},{"gene":"KLRA10","group":"SLEC"},{"gene":"KLF4","group":"MPEC"},{"gene":"KLRA4","group":"SLEC"},{"gene":"MYO3B","group":"MPEC"},{"gene":"MAPK12","group":"other"},{"gene":"KIF4","group":"other"},{"gene":"MCM10","group":"other"},{"gene":"IGH-VJ558","group":"other"},{"gene":"LOC637227","group":"other"},{"gene":"AI324046","group":"other"},{"gene":"MKI67","group":"other"},{"gene":"KCNC1","group":"other"},{"gene":"KLRA9","group":"SLEC"},{"gene":"NUSAP1","group":"other"},{"gene":"DOCK9","group":"MPEC"},{"gene":"UHRF1","group":"other"},{"gene":"ZEB2","group":"SLEC"},{"gene":"SLC15A2","group":"other"},{"gene":"KLRA33","group":"SLEC"},{"gene":"LOC100047628","group":"other"},{"gene":"YES","group":"MPEC"},{"gene":"MYC","group":"MPEC"},{"gene":"AURKB","group":"SLEC"},{"gene":"CCNB1","group":"other"},{"gene":"2810417H13RIK","group":"other"},{"gene":"SPAG5","group":"other"},{"gene":"CLSPN","group":"other"},{"gene":"PBK","group":"other"},{"gene":"CD74","group":"other"},{"gene":"SLC40A1","group":"other"},{"gene":"SNN","group":"other"},{"gene":"FAIM3","group":"other"},{"gene":"ZBTB32","group":"SLEC"},{"gene":"IGL-V1","group":"other"},{"gene":"HAVCR2","group":"SLEC"},{"gene":"IGK-V5","group":"other"},{"gene":"CDCA8","group":"SLEC"},{"gene":"3000004C01RIK","group":"other"},{"gene":"LOC381774","group":"other"},{"gene":"LOC635601","group":"other"},{"gene":"BTLA","group":"MPEC"},{"gene":"0610007P14RIK","group":"other"},{"gene":"CCNDBP1","group":"other"},{"gene":"PSMB7","group":"other"},{"gene":"E2F2","group":"SLEC"},{"gene":"BACH2","group":"MPEC"},{"gene":"SOCS3","group":"MPEC"},{"gene":"POU6F1","group":"MPEC"},{"gene":"E430033B07RIK","group":"other"},{"gene":"HIST1H2AK","group":"other"},{"gene":"HIST1H2AD","group":"other"},{"gene":"HIST1H2AH","group":"other"},{"gene":"PFN1","group":"other"},{"gene":"H3F3B","group":"other"},{"gene":"TCF7","group":"MPEC"},{"gene":"SERPINA3G","group":"MPEC"},{"gene":"SELL","group":"MPEC"},{"gene":"SUMO1","group":"other"},{"gene":"CXCR3","group":"MPEC"},{"gene":"2700060E02RIK","group":"other"},{"gene":"FOXO1","group":"MPEC"},{"gene":"CCR7","group":"MPEC"},{"gene":"BCL6","group":"MPEC"},{"gene":"ADK","group":"MPEC"},{"gene":"BCL2","group":"MPEC"},{"gene":"B930041F14RIK","group":"other"},{"gene":"CXCR4","group":"MPEC"},{"gene":"AQP9","group":"MPEC"},{"gene":"SEMA4F","group":"other"},{"gene":"IFNG","group":"other"},{"gene":"DUSP1","group":"MPEC"},{"gene":"FOS","group":"MPEC"},{"gene":"FOSB","group":"MPEC"},{"gene":"MTCH2","group":"other"},{"gene":"LOC331102","group":"other"},{"gene":"BC003885","group":"other"},{"gene":"MAT2B","group":"other"},{"gene":"BUB1B","group":"SLEC"},{"gene":"PLK1","group":"other"},{"gene":"LOC640739","group":"other"},{"gene":"CDKN3","group":"other"},{"gene":"LOC100039742","group":"other"},{"gene":"BIRC5","group":"SLEC"},{"gene":"CDCA3","group":"SLEC"},{"gene":"LOC100038882","group":"other"},{"gene":"F830002E14RIK","group":"other"},{"gene":"CSPRS","group":"other"},{"gene":"EG434858","group":"other"},{"gene":"EG629383","group":"other"},{"gene":"NACA","group":"other"},{"gene":"HMGB2","group":"other"},{"gene":"IGK-C","group":"other"},{"gene":"LMNB1","group":"other"},{"gene":"LOC386067","group":"other"},{"gene":"PRC1","group":"SLEC"},{"gene":"LOC669658","group":"other"}],
"mplaHits":[{"index":60,"group":"other"},{"index":90,"group":"other"},{"index":120,"group":"other"},{"index":150,"group":"other"},{"index":180,"group":"other"},{"index":210,"group":"other"},{"index":240,"group":"other"},{"index":390,"group":"other"},{"index":450,"group":"other"},{"index":510,"group":"other"},{"index":575,"group":"other"},{"index":635,"group":"other"},{"index":697,"group":"other"},{"index":780,"group":"other"},{"index":860,"group":"other"},{"index":963,"group":"other"},{"index":1025,"group":"other"},{"index":1128,"group":"other"},{"index":1190,"group":"other"},{"index":1250,"group":"other"},{"index":1312,"group":"other"},{"index":1374,"group":"other"},{"index":1435,"group":"other"},{"index":1497,"group":"other"},{"index":1558,"group":"other"},{"index":1600,"group":"other"},{"index":1825,"group":"other"},{"index":1950,"group":"other"},{"index":2070,"group":"other"},{"index":2195,"group":"other"},{"index":2420,"group":"other"},{"index":2540,"group":"other"},{"index":2665,"group":"other"},{"index":2810,"group":"other"},{"index":2950,"group":"other"},{"index":3075,"group":"other"},{"index":3220,"group":"other"},{"index":3340,"group":"other"},{"index":3525,"group":"other"},{"index":3770,"group":"other"},{"index":3810,"group":"other"},{"index":3855,"group":"other"},{"index":3895,"group":"other"},{"index":4120,"group":"other"},{"index":4180,"group":"other"},{"index":4245,"group":"other"},{"index":4285,"group":"other"},{"index":4655,"group":"other"},{"index":4715,"group":"other"},{"index":4800,"group":"other"},{"index":4860,"group":"other"},{"index":5020,"group":"other"},{"index":5185,"group":"other"},{"index":5370,"group":"other"},{"index":5475,"group":"other"},{"index":5640,"group":"other"},{"index":5840,"group":"other"},{"index":5900,"group":"other"},{"index":6030,"group":"other"},{"index":6230,"group":"other"},{"index":6500,"group":"other"},{"index":6660,"group":"other"},{"index":6970,"group":"other"},{"index":7215,"group":"other"},{"index":7420,"group":"other"},{"index":7625,"group":"other"},{"index":7830,"group":"other"},{"index":7875,"group":"other"},{"index":7915,"group":"other"},{"index":7955,"group":"other"},{"index":8080,"group":"other"},{"index":8590,"group":"other"},{"index":8815,"group":"other"},{"index":8855,"group":"other"},{"index":8900,"group":"other"},{"index":9100,"group":"other"},{"index":9160,"group":"other"},{"index":9370,"group":"other"},{"index":9820,"group":"other"},{"index":10250,"group":"other"},{"index":10330,"group":"other"},{"index":10410,"group":"other"},{"index":10490,"group":"other"},{"index":10570,"group":"other"},{"index":10670,"group":"other"},{"index":10800,"group":"other"},{"index":10970,"group":"other"},{"index":11210,"group":"other"},{"index":11620,"group":"other"},{"index":11660,"group":"other"},{"index":11700,"group":"other"},{"index":11740,"group":"other"},{"index":11780,"group":"other"},{"index":11820,"group":"other"},{"index":11880,"group":"other"},{"index":11930,"group":"other"},{"index":12135,"group":"other"},{"index":12300,"group":"other"},{"index":12505,"group":"other"},{"index":12810,"group":"other"},{"index":12955,"group":"other"},{"index":13260,"group":"other"},{"index":13330,"group":"other"},{"index":13430,"group":"other"},{"index":13570,"group":"other"},{"index":13610,"group":"other"},{"index":13650,"group":"other"},{"index":13690,"group":"other"},{"index":13730,"group":"other"},{"index":13770,"group":"other"},{"index":13810,"group":"other"},{"index":13840,"group":"other"},{"index":14080,"group":"other"},{"index":14140,"group":"other"},{"index":14205,"group":"other"},{"index":14390,"group":"other"},{"index":14535,"group":"other"},{"index":14900,"group":"other"},{"index":14960,"group":"other"},{"index":15020,"group":"other"},{"index":15110,"group":"other"},{"index":15310,"group":"other"},{"index":15480,"group":"other"},{"index":15520,"group":"other"},{"index":15560,"group":"other"},{"index":15600,"group":"other"},{"index":15620,"group":"other"},{"index":16130,"group":"other"},{"index":16170,"group":"other"},{"index":16210,"group":"other"},{"index":16250,"group":"other"},{"index":16290,"group":"other"},{"index":16340,"group":"other"},{"index":16650,"group":"other"},{"index":16850,"group":"other"},{"index":17000,"group":"other"},{"index":17260,"group":"other"},{"index":17470,"group":"other"},{"index":17730,"group":"other"},{"index":17770,"group":"other"},{"index":17810,"group":"other"},{"index":17850,"group":"other"},{"index":17900,"group":"other"},{"index":17950,"group":"other"},{"index":17990,"group":"other"},{"index":18030,"group":"other"},{"index":18070,"group":"other"},{"index":18180,"group":"other"},{"index":18285,"group":"other"},{"index":18490,"group":"other"},{"index":18530,"group":"other"},{"index":18570,"group":"other"},{"index":18610,"group":"other"},{"index":18650,"group":"other"},{"index":18700,"group":"other"},{"index":18800,"group":"other"},{"index":18880,"group":"other"},{"index":18960,"group":"other"},{"index":19040,"group":"other"},{"index":19120,"group":"other"},{"index":19210,"group":"other"},{"index":19290,"group":"other"},{"index":19410,"group":"other"},{"index":19450,"group":"other"},{"index":19490,"group":"other"},{"index":19530,"group":"other"},{"index":19570,"group":"other"},{"index":19820,"group":"other"},{"index":19880,"group":"other"},{"index":20230,"group":"other"},{"index":20290,"group":"other"},{"index":20350,"group":"other"},{"index":20430,"group":"other"},{"index":20500,"group":"other"},{"index":20540,"group":"other"},{"index":20580,"group":"other"},{"index":20620,"group":"other"},{"index":20,"group":"MPEC"},{"index":40,"group":"MPEC"},{"index":19660,"group":"SLEC"},{"index":19700,"group":"SLEC"},{"index":19740,"group":"SLEC"},{"index":19780,"group":"SLEC"},{"index":19985,"group":"SLEC"},{"index":20030,"group":"SLEC"},{"index":20070,"group":"SLEC"},{"index":20130,"group":"SLEC"},{"index":20700,"group":"SLEC"},{"index":20730,"group":"SLEC"}],
"lpsHits":[{"index":20,"group":"other"},{"index":60,"group":"other"},{"index":100,"group":"other"},{"index":140,"group":"other"},{"index":180,"group":"other"},{"index":220,"group":"other"},{"index":310,"group":"other"},{"index":350,"group":"other"},{"index":390,"group":"other"},{"index":430,"group":"other"},{"index":470,"group":"other"},{"index":510,"group":"other"},{"index":550,"group":"other"},{"index":590,"group":"other"},{"index":630,"group":"other"},{"index":670,"group":"other"},{"index":710,"group":"other"},{"index":750,"group":"other"},{"index":790,"group":"other"},{"index":830,"group":"other"},{"index":870,"group":"other"},{"index":910,"group":"other"},{"index":940,"group":"other"},{"index":1090,"group":"other"},{"index":1130,"group":"other"},{"index":1170,"group":"other"},{"index":1250,"group":"other"},{"index":1290,"group":"other"},{"index":1330,"group":"other"},{"index":1370,"group":"other"},{"index":1410,"group":"other"},{"index":1680,"group":"other"},{"index":1825,"group":"other"},{"index":1930,"group":"other"},{"index":2130,"group":"other"},{"index":2170,"group":"other"},{"index":2210,"group":"other"},{"index":2235,"group":"other"},{"index":2360,"group":"other"},{"index":2390,"group":"other"},{"index":2850,"group":"other"},{"index":2900,"group":"other"},{"index":2970,"group":"other"},{"index":3015,"group":"other"},{"index":3055,"group":"other"},{"index":3095,"group":"other"},{"index":3135,"group":"other"},{"index":3175,"group":"other"},{"index":3320,"group":"other"},{"index":3670,"group":"other"},{"index":3710,"group":"other"},{"index":3750,"group":"other"},{"index":3790,"group":"other"},{"index":3830,"group":"other"},{"index":3870,"group":"other"},{"index":3910,"group":"other"},{"index":3950,"group":"other"},{"index":3990,"group":"other"},{"index":4030,"group":"other"},{"index":4070,"group":"other"},{"index":4100,"group":"other"},{"index":4140,"group":"other"},{"index":4200,"group":"other"},{"index":4280,"group":"other"},{"index":4490,"group":"other"},{"index":4510,"group":"other"},{"index":4655,"group":"other"},{"index":4735,"group":"other"},{"index":4820,"group":"other"},{"index":5020,"group":"other"},{"index":5100,"group":"other"},{"index":5180,"group":"other"},{"index":5260,"group":"other"},{"index":5340,"group":"other"},{"index":5420,"group":"other"},{"index":5515,"group":"other"},{"index":5540,"group":"other"},{"index":5720,"group":"other"},{"index":6290,"group":"other"},{"index":6350,"group":"other"},{"index":6410,"group":"other"},{"index":6480,"group":"other"},{"index":6700,"group":"other"},{"index":6770,"group":"other"},{"index":6850,"group":"other"},{"index":6910,"group":"other"},{"index":6950,"group":"other"},{"index":6990,"group":"other"},{"index":7030,"group":"other"},{"index":7070,"group":"other"},{"index":7120,"group":"other"},{"index":7150,"group":"other"},{"index":7215,"group":"other"},{"index":7320,"group":"other"},{"index":7650,"group":"other"},{"index":7730,"group":"other"},{"index":7810,"group":"other"},{"index":7890,"group":"other"},{"index":7960,"group":"other"},{"index":8100,"group":"other"},{"index":8180,"group":"other"},{"index":8300,"group":"other"},{"index":8690,"group":"other"},{"index":8960,"group":"other"},{"index":9165,"group":"other"},{"index":9205,"group":"other"},{"index":9240,"group":"other"},{"index":9675,"group":"other"},{"index":9820,"group":"other"},{"index":9945,"group":"other"},{"index":10010,"group":"other"},{"index":10080,"group":"other"},{"index":10150,"group":"other"},{"index":10290,"group":"other"},{"index":10660,"group":"other"},{"index":10740,"group":"other"},{"index":10845,"group":"other"},{"index":11255,"group":"other"},{"index":11725,"group":"other"},{"index":12075,"group":"other"},{"index":12130,"group":"other"},{"index":12200,"group":"other"},{"index":12750,"group":"other"},{"index":12810,"group":"other"},{"index":12915,"group":"other"},{"index":13160,"group":"other"},{"index":13405,"group":"other"},{"index":13480,"group":"other"},{"index":13570,"group":"other"},{"index":13735,"group":"other"},{"index":14085,"group":"other"},{"index":14150,"group":"other"},{"index":14225,"group":"other"},{"index":14430,"group":"other"},{"index":14470,"group":"other"},{"index":14700,"group":"other"},{"index":14860,"group":"other"},{"index":15375,"group":"other"},{"index":15560,"group":"other"},{"index":15825,"group":"other"},{"index":16130,"group":"other"},{"index":16200,"group":"other"},{"index":16270,"group":"other"},{"index":16340,"group":"other"},{"index":16420,"group":"other"},{"index":16500,"group":"other"},{"index":16580,"group":"other"},{"index":16790,"group":"other"},{"index":17260,"group":"other"},{"index":17340,"group":"other"},{"index":17420,"group":"other"},{"index":17540,"group":"other"},{"index":17670,"group":"other"},{"index":17980,"group":"other"},{"index":18140,"group":"other"},{"index":18390,"group":"other"},{"index":18490,"group":"other"},{"index":18700,"group":"other"},{"index":19100,"group":"other"},{"index":19170,"group":"other"},{"index":19240,"group":"other"},{"index":19320,"group":"other"},{"index":19410,"group":"other"},{"index":19515,"group":"other"},{"index":19600,"group":"other"},{"index":19690,"group":"other"},{"index":19790,"group":"other"},{"index":19885,"group":"other"},{"index":20130,"group":"other"},{"index":20170,"group":"other"},{"index":20210,"group":"other"},{"index":20340,"group":"other"},{"index":20400,"group":"other"},{"index":20460,"group":"other"},{"index":20500,"group":"other"},{"index":10,"group":"MPEC"},{"index":30,"group":"MPEC"},{"index":265,"group":"MPEC"},{"index":285,"group":"MPEC"},{"index":965,"group":"MPEC"},{"index":985,"group":"MPEC"},{"index":1210,"group":"MPEC"},{"index":2295,"group":"MPEC"},{"index":2315,"group":"MPEC"},{"index":2500,"group":"MPEC"},{"index":2540,"group":"MPEC"},{"index":2580,"group":"MPEC"},{"index":2620,"group":"MPEC"},{"index":2660,"group":"MPEC"},{"index":2690,"group":"MPEC"},{"index":3380,"group":"MPEC"},{"index":3420,"group":"MPEC"},{"index":3465,"group":"MPEC"},{"index":4410,"group":"MPEC"},{"index":4430,"group":"MPEC"},{"index":14530,"group":"MPEC"},{"index":14570,"group":"MPEC"},{"index":20680,"group":"SLEC"},{"index":20720,"group":"SLEC"}],
"mplaLabels":[{"gene":"ID3","index":0,"tier":0,"group":"MPEC"},{"gene":"CDCA8","index":19630,"tier":0,"group":"SLEC"},{"gene":"AURKB","index":19650,"tier":1,"group":"SLEC"},{"gene":"ZBTB32","index":19795,"tier":2,"group":"SLEC"},{"gene":"BUB1B","index":19795,"tier":3,"group":"SLEC"},{"gene":"PRC1","index":19940,"tier":4,"group":"SLEC"},{"gene":"BIRC5","index":19920,"tier":5,"group":"SLEC"},{"gene":"CDCA3","index":20120,"tier":6,"group":"SLEC"},{"gene":"E2F2","index":20610,"tier":7,"group":"SLEC"}],
"lpsLabels":[{"gene":"SOCS3","index":40,"tier":0,"group":"MPEC"},{"gene":"BCL2","index":0,"tier":1,"group":"MPEC"},{"gene":"SERPINA3G","index":265,"tier":2,"group":"MPEC"},{"gene":"KLF4","index":840,"tier":3,"group":"MPEC"},{"gene":"PRSS12","index":1110,"tier":4,"group":"MPEC"},{"gene":"FOS","index":2300,"tier":0,"group":"MPEC"},{"gene":"CDH1","index":2520,"tier":1,"group":"MPEC"},{"gene":"FOSB","index":2600,"tier":2,"group":"MPEC"},{"gene":"DUSP1","index":3400,"tier":3,"group":"MPEC"},{"gene":"CXCR4","index":3485,"tier":4,"group":"MPEC"},{"gene":"XCL1","index":4400,"tier":0,"group":"MPEC"},{"gene":"AQP9","index":14430,"tier":0,"group":"MPEC"},{"gene":"KLRG1","index":20700,"tier":0,"group":"SLEC"},{"gene":"KCNJ8","index":20720,"tier":1,"group":"SLEC"}],
"arrows":[{"part":"shaft","step":1,"index":0,"level":0},{"part":"shaft","step":2,"index":20750,"level":0},{"part":"left head","step":1,"index":614,"level":3.5},{"part":"left head","step":2,"index":0,"level":0},{"part":"left head","step":3,"index":614,"level":-3.5},{"part":"right head","step":1,"index":20136,"level":3.5},{"part":"right head","step":2,"index":20750,"level":0},{"part":"right head","step":3,"index":20136,"level":-3.5},{"part":"divider","step":1,"index":9535,"level":15},{"part":"divider","step":2,"index":9535,"level":-17}]
},
"layer":[
{"layer":[
{"data":{"name":"cells"},"mark":{"type":"rect","strokeWidth":0.5},"encoding":{
"x":{"field":"sample","type":"nominal","axis":null,"scale":{"type":"band","domain":["M1","M2","A1","A2","L1","L2","gene labels"],"range":[62,283.67],"paddingInner":0,"paddingOuter":0}},
"y":{"field":"gene","type":"nominal","axis":null,"scale":{"type":"band","range":[65.09,1032],"paddingInner":0,"paddingOuter":0,"domain":["top margin","CDH1","C130086J11RIK","PYGL","KCNJ8","AI646023","RHOB","TTC28","PRSS12","FCGR2B","JUN","ERDR1","PTK2","CAR11","DMRTA1","1110017D15RIK","C330021F23RIK","5830406C17RIK","RASL12","LOC624610","XCL1","CAMK2N1","EOMES","SOCS5","KLRG1","EDG8","CX3CR1","KLRE1","IL7R","ATP5F1","TOP2A","ID3","ATN1","LOC100046608","SOCS1","HNRNPA2B1","S100A8","S100A9","CCL9","HSPA1A","UNC5A","KLRA3","CDC2A","KLRA10","KLF4","KLRA4","MYO3B","MAPK12","KIF4","MCM10","IGH-VJ558","LOC637227","AI324046","MKI67","KCNC1","KLRA9","NUSAP1","DOCK9","UHRF1","ZEB2","SLC15A2","KLRA33","LOC100047628","YES","MYC","AURKB","CCNB1","2810417H13RIK","SPAG5","CLSPN","PBK","CD74","SLC40A1","SNN","FAIM3","ZBTB32","IGL-V1","HAVCR2","IGK-V5","CDCA8","3000004C01RIK","LOC381774","LOC635601","BTLA","0610007P14RIK","CCNDBP1","PSMB7","E2F2","BACH2","SOCS3","POU6F1","E430033B07RIK","HIST1H2AK","HIST1H2AD","HIST1H2AH","PFN1","H3F3B","TCF7","SERPINA3G","SELL","SUMO1","CXCR3","2700060E02RIK","FOXO1","CCR7","BCL6","ADK","BCL2","B930041F14RIK","CXCR4","AQP9","SEMA4F","IFNG","DUSP1","FOS","FOSB","MTCH2","LOC331102","BC003885","MAT2B","BUB1B","PLK1","LOC640739","CDKN3","LOC100039742","BIRC5","CDCA3","LOC100038882","F830002E14RIK","CSPRS","EG434858","EG629383","NACA","HMGB2","IGK-C","LMNB1","LOC386067","PRC1","LOC669658","sample labels"]}},
"color":{"field":"value","type":"quantitative","scale":{"type":"linear","domain":[5.2,13.67],"range":["#FFFF00","#FF0000"],"interpolate":"rgb"},"legend":{"orient":"none","legendX":243,"legendY":9.5,"direction":"horizontal","gradientLength":56,"gradientThickness":32,"title":"Color Key","titleFontSize":5,"titleFontWeight":"bold","titleAnchor":"middle","titleColor":"#222222","titlePadding":2,"values":[6,8,10,12],"labelFontSize":5,"labelColor":"#444444","labelOffset":4,"gradientStrokeWidth":0}},
"stroke":{"field":"value","type":"quantitative","scale":{"type":"linear","domain":[5.2,13.67],"range":["#FFFF00","#FF0000"],"interpolate":"rgb"},"legend":null}}},
{"data":{"values":[{"boundary":"A1"},{"boundary":"L1"}]},"mark":{"type":"rule","color":"white","strokeWidth":2},"encoding":{
"x":{"field":"boundary","type":"nominal","bandPosition":0,"axis":null},
"y":{"datum":"top margin","type":"nominal","axis":null},
"y2":{"datum":"sample labels"}}},
{"data":{"name":"genes"},"mark":{"type":"text","align":"left","baseline":"middle","fontSize":5.6,"dx":2.3},"encoding":{
"x":{"datum":"gene labels","type":"nominal","bandPosition":0,"axis":null},
"y":{"field":"gene","type":"nominal","axis":null},
"text":{"field":"gene","type":"nominal"},
"color":{"field":"group","type":"nominal","scale":{"domain":["other","MPEC","SLEC"],"range":["#222222","#F0303C","#66EE33"]},"legend":null}}},
{"data":{"values":[{"column":"DC_MPLA","sample":"M1"},{"column":"DC_Alone","sample":"A1"},{"column":"DC_LPS","sample":"L1"}]},"mark":{"type":"text","align":"center","baseline":"middle","fontSize":5.8,"color":"#222222"},"encoding":{
"x":{"field":"sample","type":"nominal","bandPosition":0.8,"axis":null},
"y":{"datum":"sample labels","type":"nominal","axis":null},
"text":{"field":"column","type":"nominal"}}}
],"resolve":{"scale":{"color":"independent"}}},
{"data":{"name":"mplaHits"},"mark":{"type":"tick","size":33,"thickness":0.8,"opacity":1},"encoding":{
"x":{"field":"index","type":"quantitative","scale":{"domain":[0,20750],"range":[451,789],"nice":false,"zero":false},"axis":{"orient":"bottom","offset":-657,"values":[0,5000,10000,15000,20000,20750],"labelExpr":"datum.value>20000?'':datum.label","format":"d","grid":false,"domainColor":"#333333","tickColor":"#333333","tickSize":4,"labelFontSize":7,"labelColor":"#333333","labelPadding":7,"labelFlush":false,"title":"Gene Index","titleFontSize":11,"titleFontWeight":"bold","titleColor":"#222222","titleX":613,"titleY":34}},
"y":{"datum":"MPLA signature","type":"nominal","axis":null,"scale":{"type":"point","domain":["MPLA signature","LPS signature"],"range":[218.6,328.3],"padding":0}},
"color":{"field":"group","type":"nominal","scale":{"domain":["other","MPEC","SLEC"],"range":["#000000","#FF0000","#33EE11"]},"legend":null}}},
{"data":{"name":"lpsHits"},"mark":{"type":"tick","size":33,"thickness":0.8,"opacity":1},"encoding":{
"x":{"field":"index","type":"quantitative","axis":null,"scale":{"domain":[0,20750],"range":[451,789],"nice":false,"zero":false}},
"y":{"datum":"LPS signature","type":"nominal","axis":null,"scale":{"type":"point","domain":["MPLA signature","LPS signature"],"range":[218.6,328.3],"padding":0}},
"color":{"field":"group","type":"nominal","scale":{"domain":["other","MPEC","SLEC"],"range":["#000000","#FF0000","#33EE11"]},"legend":null}}},
{"data":{"values":[{"label":"MPLA signature"},{"label":"LPS signature"}]},"mark":{"type":"text","align":"center","baseline":"middle","fontSize":9,"fontWeight":"bold","color":"#222222"},"encoding":{
"x":{"datum":-3640,"type":"quantitative","axis":null,"scale":{"domain":[0,20750],"range":[451,789],"nice":false,"zero":false}},
"y":{"field":"label","type":"nominal","axis":null,"scale":{"type":"point","domain":["MPLA signature","LPS signature"],"range":[218.6,328.3],"padding":0}},
"text":{"field":"label","type":"nominal"}}},
{"data":{"name":"mplaLabels"},"mark":{"type":"text","align":"center","baseline":"middle","fontSize":7,"fontWeight":"bold"},"encoding":{
"x":{"field":"index","type":"quantitative","axis":null,"scale":{"domain":[0,20750],"range":[451,789],"nice":false,"zero":false}},
"y":{"field":"tier","type":"quantitative","axis":null,"scale":{"domain":[0,7],"range":[195,135],"nice":false,"zero":false}},
"text":{"field":"gene","type":"nominal"},
"color":{"field":"group","type":"nominal","scale":{"domain":["MPEC","SLEC"],"range":["#F0303C","#66EE33"]},"legend":null}}},
{"data":{"name":"lpsLabels"},"mark":{"type":"text","align":"center","baseline":"middle","fontSize":7,"fontWeight":"bold"},"encoding":{
"x":{"field":"index","type":"quantitative","axis":null,"scale":{"domain":[0,20750],"range":[451,789],"nice":false,"zero":false}},
"y":{"field":"tier","type":"quantitative","axis":null,"scale":{"domain":[0,4],"range":[305,270.7],"nice":false,"zero":false}},
"text":{"field":"gene","type":"nominal"},
"color":{"field":"group","type":"nominal","scale":{"domain":["MPEC","SLEC"],"range":["#F0303C","#66EE33"]},"legend":null}}},
{"layer":[
{"data":{"name":"arrows"},"mark":{"type":"line","color":"#222222","strokeWidth":1.2,"interpolate":"linear"},"encoding":{
"x":{"field":"index","type":"quantitative","axis":null,"scale":{"domain":[0,20750],"range":[451,789],"nice":false,"zero":false}},
"y":{"field":"level","type":"quantitative","axis":null,"scale":{"domain":[-15,15],"range":[107,77],"nice":false,"zero":false}},
"detail":{"field":"part","type":"nominal"},
"order":{"field":"step","type":"quantitative"}}},
{"data":{"values":[{"label":"LCMV-MPEC","index":3666,"level":15.3,"tone":"MPEC"},{"label":"LCMV-SLEC","index":17296,"level":15.3,"tone":"SLEC"}]},"mark":{"type":"text","align":"center","baseline":"middle","fontSize":12.2},"encoding":{
"x":{"field":"index","type":"quantitative","axis":null},
"y":{"field":"level","type":"quantitative","axis":null},
"text":{"field":"label","type":"nominal"},
"color":{"field":"tone","type":"nominal","scale":{"domain":["MPEC","SLEC"],"range":["#B5152B","#55EE44"]},"legend":null}}},
{"data":{"values":[{"label":"A.","index":-27600,"level":80},{"label":"B.","index":-6050,"level":80}]},"mark":{"type":"text","align":"left","baseline":"middle","fontSize":22,"fontWeight":"bold","color":"#000000"},"encoding":{
"x":{"field":"index","type":"quantitative","axis":null},
"y":{"field":"level","type":"quantitative","axis":null},
"text":{"field":"label","type":"nominal"}}},
{"data":{"values":[{"label":"Gene Intensity","index":-11050,"level":31}]},"mark":{"type":"text","align":"center","baseline":"middle","fontSize":5.8,"color":"#222222"},"encoding":{
"x":{"field":"index","type":"quantitative","axis":null},
"y":{"field":"level","type":"quantitative","axis":null},
"text":{"field":"label","type":"nominal"}}}
]}
],
"resolve":{"scale":{"x":"independent","y":"independent","color":"independent"}}
}
